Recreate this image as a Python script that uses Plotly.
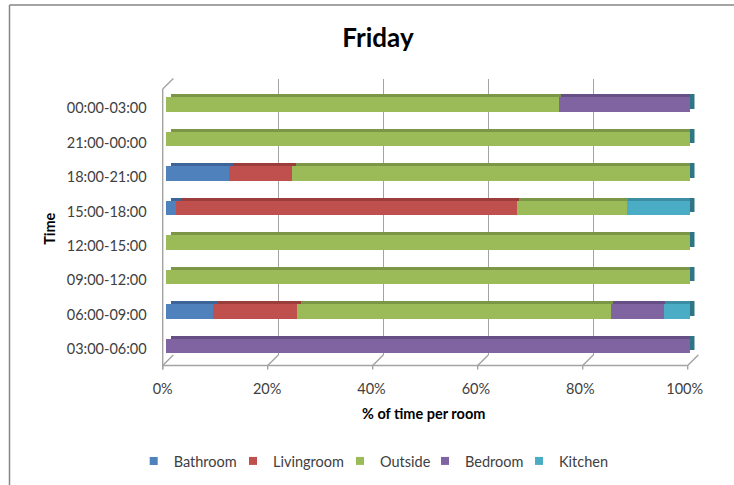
import plotly.graph_objects as go

# ---- data -------------------------------------------------------------
times = ["03:00-06:00", "06:00-09:00", "09:00-12:00", "12:00-15:00",
         "15:00-18:00", "18:00-21:00", "21:00-00:00", "00:00-03:00"]
rooms = ["Bathroom", "Livingroom", "Outside", "Bedroom", "Kitchen"]
bathroom = [0.00, 0.09, 0.00, 0.00, 0.02, 0.12, 0.00, 0.00]
livingroom = [0.00, 0.16, 0.00, 0.00, 0.65, 0.12, 0.00, 0.00]
outside = [0.00, 0.60, 1.00, 1.00, 0.21, 0.76, 1.00, 0.75]
bedroom = [1.00, 0.10, 0.00, 0.00, 0.00, 0.00, 0.00, 0.25]
kitchen = [0.00, 0.05, 0.00, 0.00, 0.12, 0.00, 0.00, 0.00]
x_ticks = [0, 0.2, 0.4, 0.6, 0.8, 1.0]
x_tick_labels = ["0%", "20%", "40%", "60%", "80%", "100%"]

series = dict(zip(rooms, [bathroom, livingroom, outside, bedroom, kitchen]))
totals = [sum(v) for v in zip(*series.values())]

# ---- styling ----------------------------------------------------------
face = {"Bathroom": "#4F81BD", "Livingroom": "#C0504D", "Outside": "#9BBB59",
        "Bedroom": "#8064A2", "Kitchen": "#4BACC6"}
top_face = {"Bathroom": "#3D659A", "Livingroom": "#9A3D3B", "Outside": "#7B9646",
            "Bedroom": "#654F84", "Kitchen": "#3A8DA3"}
end_face = "#2E7586"
grid_col = "#A3A3A3"
font = "Lato"
label_col = "#404040"

W, H = 734, 485


def px_x(a):
    return a / W


def px_y(a):
    return 1 - a / H


def dom_x(a, b):
    return [px_x(a), px_x(b)]


def dom_y(top, bottom):
    return [px_y(bottom), px_y(top)]


# 3-D box geometry (pixels)
FRONT_X0, FRONT_X1, FLOOR_Y = 162.7, 687.7, 365.5
DEPTH_DX, DEPTH_DY = 10.6, -10.5
WALL_TOP = 89.0
BAR_X0, BAR_X1 = 166.0, 690.0
BAR_TOP, BAR_BOT = 87.25, 363.25
SH_DX, SH_DY = 4.5, -3.0
BAR_W = 0.42

fig = go.Figure()

# back wall (gridlines only)
fig.add_trace(go.Scatter(x=[], y=[], xaxis="x", yaxis="y", showlegend=False,
                         hoverinfo="skip"))

# right end faces of the bars
fig.add_trace(go.Bar(x=totals, y=times, orientation="h", xaxis="x2", yaxis="y2",
                     width=BAR_W, marker=dict(color=end_face, line=dict(width=0)),
                     showlegend=False, hoverinfo="skip"))

# top faces of the bar segments
for r in rooms:
    fig.add_trace(go.Bar(x=series[r], y=times, orientation="h", xaxis="x3", yaxis="y3",
                         width=BAR_W, marker=dict(color=top_face[r], line=dict(width=0)),
                         showlegend=False, hoverinfo="skip", legendgroup=r))

# front faces of the bar segments
for r in rooms:
    fig.add_trace(go.Bar(x=series[r], y=times, orientation="h", xaxis="x4", yaxis="y4",
                         width=BAR_W, name=r, legendgroup=r, showlegend=False,
                         marker=dict(color=face[r], line=dict(width=0)),
                         hovertemplate=r + ": %{x:.0%}<extra>%{y}</extra>"))

# legend entries (one legend box per room)
legend_ids = ["legend", "legend2", "legend3", "legend4", "legend5"]
for r, lid in zip(rooms, legend_ids):
    fig.add_trace(go.Scatter(x=[None], y=[None], mode="markers", name=r,
                             legendgroup=r, legend=lid, xaxis="x5", yaxis="y5",
                             marker=dict(symbol="square", size=8, color=face[r])))

hidden = dict(showgrid=False, zeroline=False, showticklabels=False, showline=False,
              ticks="", fixedrange=True, automargin=False)

layout = dict(
    template="none",
    width=W, height=H, autosize=False,
    margin=dict(l=0, r=0, t=0, b=0, pad=0, autoexpand=False),
    paper_bgcolor="white", plot_bgcolor="rgba(0,0,0,0)",
    barmode="stack", bargap=0,
    font=dict(family=font, color=label_col, size=14.5),
    title=dict(text="<b>Friday</b>", x=px_x(378), y=px_y(38), xanchor="center",
               yanchor="middle", xref="paper", yref="container",
               font=dict(family=font, size=26, color="black")),
    xaxis=dict(domain=dom_x(FRONT_X0 + DEPTH_DX, FRONT_X1 + DEPTH_DX), range=[0, 1],
               anchor="y", tickvals=x_ticks, showgrid=True, gridcolor=grid_col,
               gridwidth=1.4, zeroline=False, showticklabels=False, showline=False,
               ticks="", fixedrange=True, automargin=False),
    yaxis=dict(domain=dom_y(WALL_TOP + DEPTH_DY, FLOOR_Y + DEPTH_DY), range=[0, 1],
               anchor="x", **hidden),
    xaxis2=dict(domain=dom_x(BAR_X0 + SH_DX, BAR_X1 + SH_DX), range=[0, 1], anchor="y2",
                **hidden),
    yaxis2=dict(domain=dom_y(BAR_TOP + SH_DY, BAR_BOT + SH_DY), range=[-0.5, 7.5],
                type="category", categoryorder="array", categoryarray=times,
                anchor="x2", **hidden),
    xaxis3=dict(domain=dom_x(BAR_X0 + SH_DX, BAR_X1), range=[0, 1], anchor="y3", **hidden),
    yaxis3=dict(domain=dom_y(BAR_TOP + SH_DY, BAR_BOT + SH_DY), range=[-0.5, 7.5],
                type="category", categoryorder="array", categoryarray=times,
                anchor="x3", **hidden),
    xaxis4=dict(domain=dom_x(BAR_X0, BAR_X1), range=[0, 1], anchor="y4", **hidden),
    yaxis4=dict(domain=dom_y(BAR_TOP, BAR_BOT), range=[-0.5, 7.5],
                type="category", categoryorder="array", categoryarray=times,
                anchor="x4", **hidden),
    # axis labels and titles sit on the front plane of the box
    xaxis5=dict(domain=dom_x(FRONT_X0, FRONT_X1 - 3), range=[0, 1], anchor="y5",
                tickvals=x_ticks, ticktext=x_tick_labels, showgrid=False,
                zeroline=False, showline=False, ticks="", ticklabelstandoff=12,
                tickfont=dict(size=14.5, color=label_col), fixedrange=True,
                automargin=False,
                title=dict(text="<b>% of time per room</b>", standoff=12,
                           font=dict(size=14.5, color="black"))),
    yaxis5=dict(domain=dom_y(91, 366.5), range=[-0.5, 7.5], anchor="x5",
                tickvals=list(range(len(times))), ticktext=times, showgrid=False,
                zeroline=False, showline=False, ticks="", ticklabelstandoff=15,
                tickfont=dict(size=14.5, color=label_col), fixedrange=True,
                automargin=False,
                title=dict(text="<b>Time</b>", standoff=7,
                           font=dict(size=14.5, color="black"))),
)

# legend boxes laid out in one row under the chart
legend_text_x = [170.7, 270.0, 377.0, 462.0, 556.0]
for lid, tx in zip(legend_ids, legend_text_x):
    layout[lid] = dict(x=px_x(tx - 37), y=px_y(461), xanchor="left", yanchor="middle",
                       orientation="h", bgcolor="rgba(0,0,0,0)", borderwidth=0,
                       font=dict(family=font, size=14.5, color=label_col))

# box outline: side wall, floor edge, floor grid, tick marks, chart border
line = dict(color=grid_col, width=1.4)
shapes = []
shapes.append(dict(type="line", xref="paper", yref="paper", layer="below", line=line,
                   x0=px_x(FRONT_X0), y0=px_y(WALL_TOP), x1=px_x(FRONT_X0),
                   y1=px_y(FLOOR_Y + 4)))
shapes.append(dict(type="line", xref="paper", yref="paper", layer="below", line=line,
                   x0=px_x(FRONT_X0), y0=px_y(WALL_TOP),
                   x1=px_x(FRONT_X0 + DEPTH_DX), y1=px_y(WALL_TOP + DEPTH_DY)))
shapes.append(dict(type="line", xref="paper", yref="paper", layer="below", line=line,
                   x0=px_x(FRONT_X0), y0=px_y(FLOOR_Y), x1=px_x(FRONT_X1),
                   y1=px_y(FLOOR_Y)))
for t in x_ticks:
    fx = FRONT_X0 + t * (FRONT_X1 - FRONT_X0)
    shapes.append(dict(type="line", xref="paper", yref="paper", layer="below", line=line,
                       x0=px_x(fx), y0=px_y(FLOOR_Y), x1=px_x(fx + DEPTH_DX),
                       y1=px_y(FLOOR_Y + DEPTH_DY)))
    shapes.append(dict(type="line", xref="paper", yref="paper", layer="below", line=line,
                       x0=px_x(fx), y0=px_y(FLOOR_Y), x1=px_x(fx), y1=px_y(FLOOR_Y + 4)))
# outer chart border (left and top edges fall inside the figure)
border = dict(color="#868686", width=1.5)
shapes.append(dict(type="line", xref="paper", yref="paper", layer="below", line=border,
                   x0=px_x(9.5), y0=px_y(5), x1=px_x(W), y1=px_y(5)))
shapes.append(dict(type="line", xref="paper", yref="paper", layer="below", line=border,
                   x0=px_x(9.5), y0=px_y(5), x1=px_x(9.5), y1=px_y(H)))
layout["shapes"] = shapes

fig.update_layout(**layout)
fig.write_html("out.html")
